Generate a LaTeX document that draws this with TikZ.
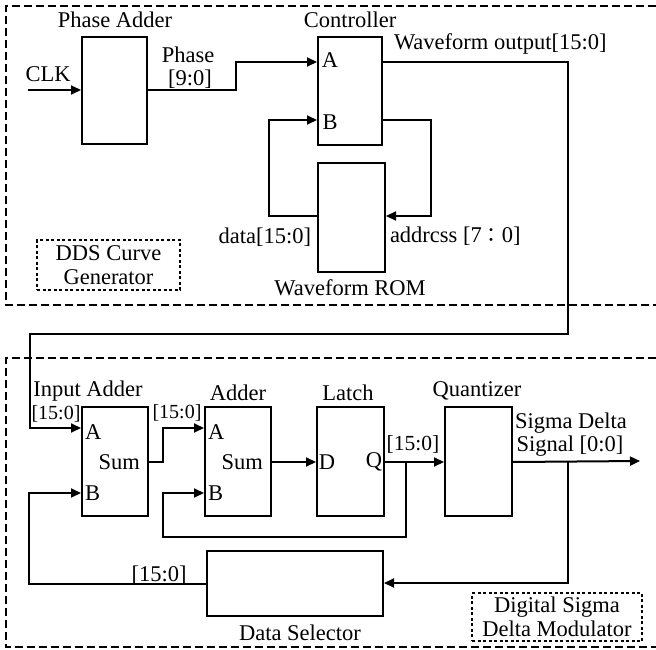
\documentclass[tikz,border=0pt]{standalone}
\usepackage{fontspec}
\setmainfont{Liberation Serif}
\newfontfamily\cjk{Noto Sans CJK TC}
\usetikzlibrary{arrows.meta}
\begin{document}
\begin{tikzpicture}[x=1pt,y=-1pt,line width=2pt,
  font=\fontsize{22.5}{25}\selectfont,
  blk/.style n args={2}{draw,minimum width=#1pt,minimum height=#2pt,inner sep=0pt},
  lbl/.style={inner sep=0pt},
  small/.style={inner sep=0pt,font=\fontsize{20}{22}\selectfont},
  arr/.style={-{Triangle[length=10pt,width=9pt]}},
  group/.style={dash pattern=on 8pt off 4pt},
  tag/.style={draw,dash pattern=on 3pt off 2.5pt,align=center,inner sep=0pt,font=\fontsize{22.5}{24}\selectfont}]
\useasboundingbox (0,0) rectangle (656,650);
% group frames
\draw[group] (656,6) -- (6,6) -- (6,305) -- (656,305);
\draw[group] (656,358) -- (6,358) -- (6,647) -- (656,647);
% blocks
\node[blk={65}{107}] (pa) at (114.5,90.5) {};
\node[blk={64}{108}] (ctrl) at (350,91) {};
\node[blk={67}{109}] (rom) at (351.5,217.5) {};
\node[blk={66}{109}] (ia) at (115,461.5) {};
\node[blk={66}{109}] (ad) at (238,461.5) {};
\node[blk={67}{109}] (la) at (350.5,461.5) {};
\node[blk={67}{109}] (qz) at (478.5,461.5) {};
\node[blk={176}{65}] (ds) at (295,583.5) {};
\node[tag,minimum width=143pt,minimum height=50pt] (dds) at (108.5,265) {DDS Curve\\Generator};
\node[tag,minimum width=170pt,minimum height=48pt] (dsm) at (557,617) {Digital Sigma\\Delta Modulator};
% titles
\node[lbl] (tpa) at (115,20) {Phase Adder};
\node[lbl] (tctrl) at (350,20) {Controller};
\node[lbl] (trom) at (350,288) {Waveform ROM};
\node[lbl] (tia) at (88,391) {Input Adder};
\node[lbl] (tad) at (238,393) {Adder};
\node[lbl] (tla) at (348,393) {Latch};
\node[lbl] (tqz) at (477,391) {Quantizer};
\node[lbl] (tds) at (300,633) {Data Selector};
% port labels
\node[lbl] at (330,60) {A};
\node[lbl] at (330,122) {B};
\node[lbl,anchor=west] at (84,432) {A};
\node[lbl,anchor=west] at (84,493) {B};
\node[lbl,anchor=east] at (141,462) {Sum};
\node[lbl,anchor=west] at (207,432) {A};
\node[lbl,anchor=west] at (207,493) {B};
\node[lbl,anchor=east] at (264,462) {Sum};
\node[lbl] at (327,462) {D};
\node[lbl] at (374,462) {Q};
% signal labels
\node[lbl] at (48,74) {CLK};
\node[lbl] at (188,55) {Phase};
\node[lbl] at (190,79) {[9:0]};
\node[lbl,anchor=west] at (393,44) {Waveform output[15:0]};
\node[lbl,anchor=east] at (312,237) {data[15:0]};
\node[lbl,anchor=west] at (389,236) {addrcss [7{\cjk\fontsize{20}{22}\selectfont ：}0]};
\node[small] at (56,414) {[15:0]};
\node[small] at (177,413) {[15:0]};
\node[lbl,font=\fontsize{21.5}{23}\selectfont] at (413,444) {[15:0]};
\node[lbl] at (571,423) {Sigma Delta};
\node[lbl] at (570,446) {Signal [0:0]};
\node[lbl] at (159,575) {[15:0]};
% connectors
\coordinate (clkin) at (28,90);
\coordinate (sdout) at (640,461);
\draw[arr] (clkin) -- (pa.west |- clkin);
\draw[arr] (pa.east |- clkin) -- (236,90) -- (236,62) -- (ctrl.west |- 0,62);
\draw[arr] (rom.west |- 0,216) -- (269,216) -- (269,120) -- (ctrl.west |- 0,120);
\draw[arr] (ctrl.east |- 0,120) -- (431,120) -- (431,216) -- (rom.east |- 0,216);
\draw[arr] (ctrl.east |- 0,62) -- (568,62) -- (568,334) -- (30,334) -- (30,428) -- (ia.west |- 0,428);
\draw[arr] (ia.east |- 0,462) -- (163,462) -- (163,428) -- (ad.west |- 0,428);
\draw[arr] (ad.east |- 0,462) -- (la.west |- 0,462);
\draw[arr] (la.east |- 0,462) -- (qz.west |- 0,462);
\draw[arr] (406,462) -- (406,537) -- (163,537) -- (163,493) -- (ad.west |- 0,493);
\draw[arr] (qz.east |- 0,462) -- (sdout);
\draw[arr] (568,462) -- (568,583) -- (ds.east |- 0,583);
\draw[arr] (ds.west |- 0,584) -- (29,584) -- (29,493) -- (ia.west |- 0,493);
\end{tikzpicture}
\end{document}
